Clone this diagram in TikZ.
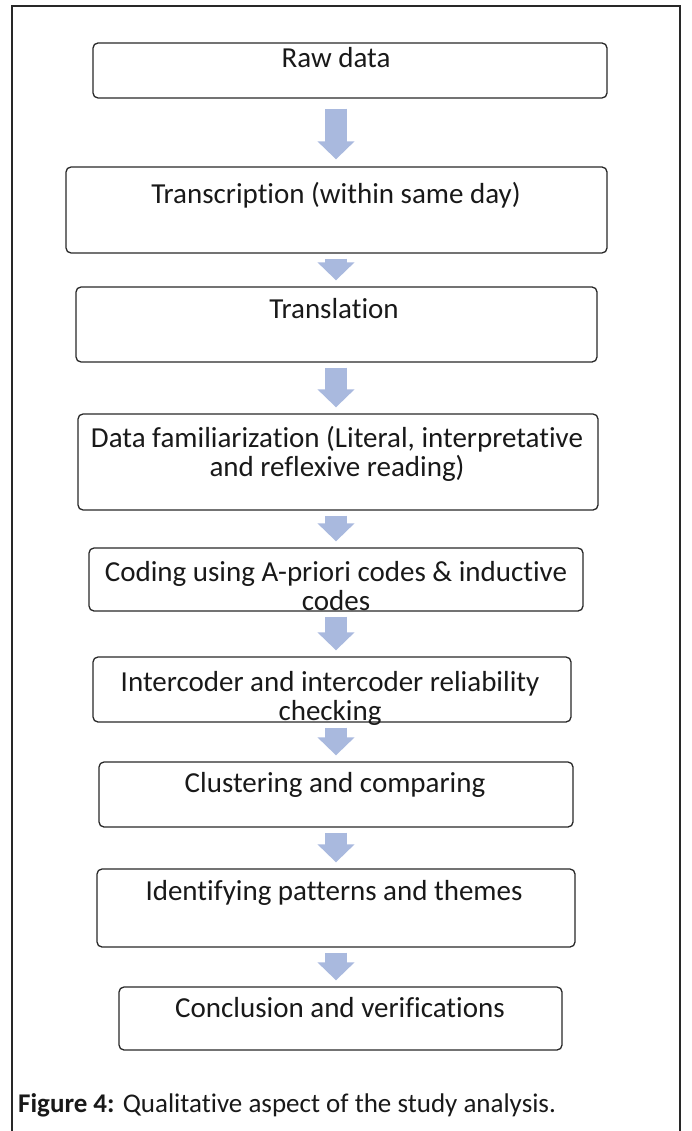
\documentclass[tikz,border=0pt]{standalone}
\usepackage{fontspec}
\setmainfont{Carlito}[Ligatures=NoCommon]
\usetikzlibrary{positioning, arrows.meta}
\definecolor{flowblue}{RGB}{169,185,222}
\definecolor{boxline}{RGB}{40,40,40}
\tikzset{
stepbox/.style={draw=boxline, line width=1.3pt, rounded corners=5pt, inner sep=0pt},
steptext/.style={inner sep=0pt, align=center, anchor=base, text=black!90, font=\fontsize{29}{29}\selectfont},
flow/.style={draw=flowblue, line width=22pt, -{Triangle[width=36pt, length=18pt]}, shorten <=5pt, shorten >=6pt},
}

\begin{document}
\begin{tikzpicture}[x=1pt, y=-1pt]
    \useasboundingbox (0,0) rectangle (692,1131);
    \draw[boxline, line width=1.3pt] (12,1131) -- (12,6) -- (680,6) -- (680,1131);
    \coordinate (spine) at (336,0);

    \node[stepbox, minimum width=514pt, minimum height=55pt] (raw) at (350,70.5) {};
    \node[stepbox, minimum width=541pt, minimum height=86pt] (trans) at (336.5,210) {};
    \node[stepbox, minimum width=521pt, minimum height=75pt] (transl) at (336.5,324.5) {};
    \node[stepbox, minimum width=520pt, minimum height=96pt] (famil) at (338,462) {};
    \node[stepbox, minimum width=494pt, minimum height=63pt] (coding) at (336,579.5) {};
    \node[stepbox, minimum width=478pt, minimum height=65pt] (inter) at (332,689.5) {};
    \node[stepbox, minimum width=474pt, minimum height=65pt] (cluster) at (336,794.5) {};
    \node[stepbox, minimum width=478pt, minimum height=78pt] (ident) at (336,908) {};
    \node[stepbox, minimum width=443pt, minimum height=63pt] (concl) at (340.5,1018.5) {};

    % two-line texts sit on their last line
    \node[steptext] (rawtxt) at (336,68) {Raw data};
    \node[steptext] (transtxt) at (336,204) {Transcription (within same day)};
    \node[steptext] (transltxt) at (334,318) {Translation};
    \node[steptext] (familtxt) at (337,476) {Data familiarization (Literal, interpretative\\and reflexive reading)};
    \node[steptext] (codingtxt) at (336,610) {Coding using A-priori codes \& inductive\\codes};
    \node[steptext] (intertxt) at (330,720) {Intercoder and intercoder reliability\\checking};
    \node[steptext] (clustertxt) at (335,792) {Clustering and comparing};
    \node[steptext] (identtxt) at (334,900) {Identifying patterns and themes};
    \node[steptext] (concltxt) at (340,1017) {Conclusion and verifications};

    \draw[flow, shorten <=10pt, shorten >=7pt] (raw.south -| spine) -- (trans.north -| spine);
    \draw[flow] (trans.south -| spine) -- (transl.north -| spine);
    \draw[flow] (transl.south -| spine) -- (famil.north -| spine);
    \draw[flow] (famil.south -| spine) -- (coding.north -| spine);
    \draw[flow] (coding.south -| spine) -- (inter.north -| spine);
    \draw[flow] (inter.south -| spine) -- (cluster.north -| spine);
    \draw[flow] (cluster.south -| spine) -- (ident.north -| spine);
    \draw[flow] (ident.south -| spine) -- (concl.north -| spine);

    \node[steptext, anchor=base west, align=left, font=\fontsize{27}{29}\selectfont] (caption) at (18,1112) {\textbf{Figure 4:} Qualitative aspect of the study analysis.};
\end{tikzpicture}
\end{document}
